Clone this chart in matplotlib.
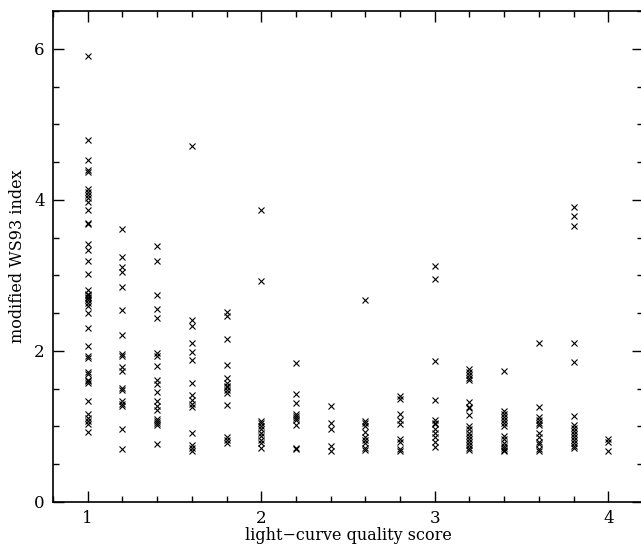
import matplotlib.pyplot as plt
from matplotlib.ticker import MultipleLocator

# WS93 index values, grouped by light-curve quality score
scores = [1.0, 1.2, 1.4, 1.6, 1.8, 2.0, 2.2, 2.4, 2.6, 2.8, 3.0, 3.2, 3.4, 3.6, 3.8, 4.0]

ws93 = [
    [5.91, 4.79, 4.53, 4.39, 4.37, 4.15, 4.10, 4.06, 4.02, 3.97, 3.87, 3.70, 3.68,
     3.42, 3.34, 3.19, 3.02, 2.81, 2.76, 2.74, 2.72, 2.70, 2.68, 2.64, 2.60, 2.50,
     2.31, 2.07, 1.93, 1.91, 1.72, 1.69, 1.62, 1.60, 1.57, 1.34, 1.16, 1.11, 1.07,
     1.03, 0.93],
    [3.61, 3.24, 3.11, 3.05, 2.85, 2.54, 2.21, 1.96, 1.93, 1.79, 1.73, 1.51, 1.48,
     1.34, 1.30, 1.27, 0.96, 0.70],
    [3.39, 3.19, 2.74, 2.55, 2.43, 1.97, 1.93, 1.80, 1.61, 1.56, 1.45, 1.34, 1.27,
     1.22, 1.10, 1.07, 1.05, 1.02, 0.77],
    [4.71, 2.41, 2.33, 2.10, 1.98, 1.88, 1.58, 1.42, 1.35, 1.30, 1.26, 0.91, 0.76,
     0.72, 0.68],
    [2.52, 2.46, 2.16, 1.81, 1.64, 1.58, 1.54, 1.52, 1.48, 1.44, 1.29, 0.86, 0.82,
     0.78],
    [3.87, 2.92, 1.07, 1.04, 1.00, 0.96, 0.92, 0.88, 0.82, 0.78, 0.72],
    [1.84, 1.43, 1.31, 1.17, 1.14, 1.11, 1.08, 1.02, 0.72, 0.70],
    [1.27, 1.04, 0.97, 0.74, 0.67],
    [2.67, 1.07, 1.04, 1.00, 0.93, 0.86, 0.82, 0.78, 0.72, 0.69],
    [1.40, 1.37, 1.16, 1.09, 1.03, 0.83, 0.79, 0.70, 0.67],
    [3.12, 2.95, 1.86, 1.35, 1.08, 1.05, 1.03, 0.97, 0.91, 0.86, 0.80, 0.73],
    [1.76, 1.72, 1.68, 1.64, 1.61, 1.33, 1.26, 1.24, 1.15, 1.00, 0.96, 0.92, 0.88,
     0.84, 0.80, 0.76, 0.72, 0.69],
    [1.73, 1.21, 1.17, 1.12, 1.08, 1.04, 1.00, 0.88, 0.84, 0.78, 0.74, 0.71, 0.69,
     0.67],
    [2.11, 1.26, 1.13, 1.08, 1.05, 1.02, 0.91, 0.86, 0.80, 0.77, 0.70, 0.67],
    [3.91, 3.78, 3.66, 2.10, 1.85, 1.14, 1.02, 0.98, 0.94, 0.90, 0.86, 0.82, 0.78,
     0.74, 0.71],
    [0.83, 0.80, 0.68],
]


def main():
    plt.rcParams["font.family"] = ["DejaVu Serif"]

    fig = plt.figure(figsize=(6.41, 5.45), dpi=100)
    # plot box runs slightly past the right edge, as in the original scan
    ax = fig.add_axes([53 / 641, 43 / 545, 590 / 641, 491 / 545])

    for s, vals in zip(scores, ws93):
        ax.plot([s] * len(vals), vals, linestyle="none", marker="x",
                color="black", markersize=4, markeredgewidth=0.8)

    ax.set_xlim(0.8, 4.2)
    ax.set_ylim(0, 6.5)
    ax.xaxis.set_major_locator(MultipleLocator(1))
    ax.xaxis.set_minor_locator(MultipleLocator(0.2))
    ax.yaxis.set_major_locator(MultipleLocator(2))
    ax.yaxis.set_minor_locator(MultipleLocator(0.5))

    ax.tick_params(which="both", direction="in", top=True, right=True,
                   width=1.0, labelsize=12)
    ax.tick_params(which="major", length=8, pad=6)
    ax.tick_params(which="minor", length=4)
    for sp in ax.spines.values():
        sp.set_linewidth(1.2)

    ax.set_xlabel("light\u2212curve quality score", fontsize=11.5, labelpad=0)
    ax.set_ylabel("modified WS93 index", fontsize=11.5, labelpad=6)

    fig.savefig("out.png", dpi=100)
    plt.close(fig)


if __name__ == "__main__":
    main()
